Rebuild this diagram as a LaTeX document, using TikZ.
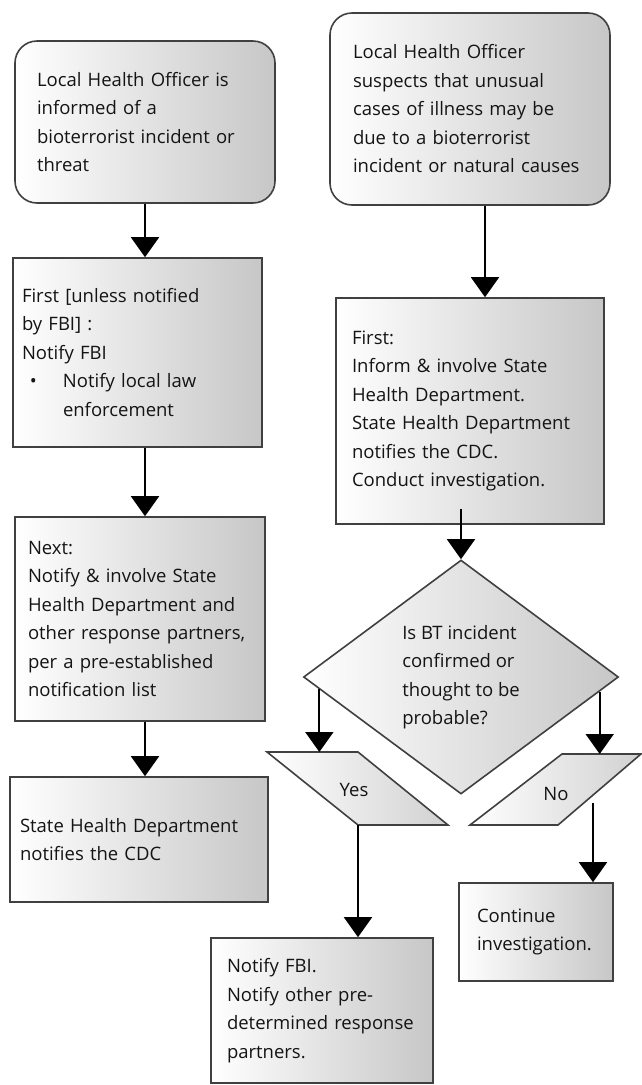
\documentclass[tikz,border=0pt]{standalone}
\usepackage{fontspec}
\setmainfont{Open Sans}
\usepackage{tikz}
\usetikzlibrary{arrows.meta,calc,positioning,shapes.geometric}

\begin{document}
\begin{tikzpicture}[
    x=1pt, y=-1pt,
    every node/.style={font=\fontsize{18.5pt}{28.5pt}\selectfont, text=black!92},
    box/.style={draw=black!75, line width=1.6pt, left color=white, right color=black!22, align=left, inner ysep=0pt},
    roundbox/.style={box, rounded corners=22pt},
    para/.style={draw=black!75, line width=1.6pt, left color=white, right color=black!18},
    decision/.style={draw=black!75, line width=1.6pt, left color=white, right color=black!22, diamond, aspect=1.35,
        inner sep=0pt, align=left, minimum width=315pt, minimum height=234pt},
    flow/.style={draw=black, line width=1.8pt, -{Triangle[length=20pt, width=28pt]}}]
\useasboundingbox (0,0) rectangle (642,1085);

% left column
\node[roundbox, inner xsep=22pt, text width=216pt, minimum height=162pt] (l1) at (145,122)
    {Local Health Officer is\\informed of a\\bioterrorist incident or\\threat};
\node[box, inner xsep=9pt, text width=231pt, minimum height=189pt] (l2) at (137.5,352.5)
    {First [unless notified\\by FBI] :\\Notify FBI\\\hspace*{8pt}\makebox[33pt][l]{•}Notify local law\\\hspace*{41pt}enforcement};
\node[box, inner xsep=13pt, text width=224pt, minimum height=204pt] (l3) at (140,619)
    {Next:\\Notify \& involve State\\Health Department and\\other response partners,\\per a pre-established\\notification list};
\node[box, inner xsep=10pt, text width=238pt, minimum height=125pt] (l4) at (139,839.5)
    {State Health Department\\notifies the CDC};

% right column
\node[roundbox, inner xsep=23pt, text width=234pt, minimum height=192pt] (r1) at (470,109)
    {Local Health Officer\\suspects that unusual\\cases of illness may be\\due to a bioterrorist\\incident or natural causes};
\node[box, inner xsep=16pt, text width=236pt, minimum height=226pt] (r2) at (470,411)
    {First:\\Inform \& involve State\\Health Department.\\State Health Department\\notifies the CDC.\\Conduct investigation.};
\node[decision] (q) at (461,677)
    {Is BT incident\\confirmed or\\thought to be\\probable?};

\coordinate (ya) at (267,752);
\coordinate (yb) at (358,752);
\coordinate (yc) at (448,825);
\coordinate (yd) at (358,825);
\path[para] (ya) -- (yb) -- (yc) -- (yd) -- cycle;
\node (yes) at (354,790) {Yes};

\coordinate (na) at (562,754);
\coordinate (nb) at (641,754);
\coordinate (nc) at (558,825);
\coordinate (nd) at (470,825);
\path[para] (na) -- (nb) -- (nc) -- (nd) -- cycle;
\coordinate (nout) at (593,803);
\node (no) at (556,794) {No};

\node[box, inner xsep=16pt, text width=190pt, minimum height=145pt] (fbi) at (322,1010.5)
    {Notify FBI.\\Notify other pre-\\determined response\\partners.};
\node[box, inner xsep=18pt, text width=118pt, minimum height=98pt] (cont) at (536,932)
    {Continue\\investigation.};

% connectors
\draw[flow] (l1.south) -- (l1.south |- l2.north);
\draw[flow] (l2.south -| l1.south) -- (l1.south |- l3.north);
\draw[flow] (l3.south -| l1.south) -- (l1.south |- l4.north);
\draw[flow] ([xshift=15pt]r1.south) -- ([xshift=15pt]r1.south |- r2.north);
\draw[flow] ([yshift=16pt]r2.south -| q.north) -- (q.north);
\draw[flow] (q.185) -- (q.185 |- ya);
\draw[flow] (q.-6.7) -- (q.-6.7 |- na);
\draw[flow] (yd) -- (yd |- fbi.north);
\draw[flow] (nout) -- (nout |- cont.north);

\end{tikzpicture}
\end{document}
